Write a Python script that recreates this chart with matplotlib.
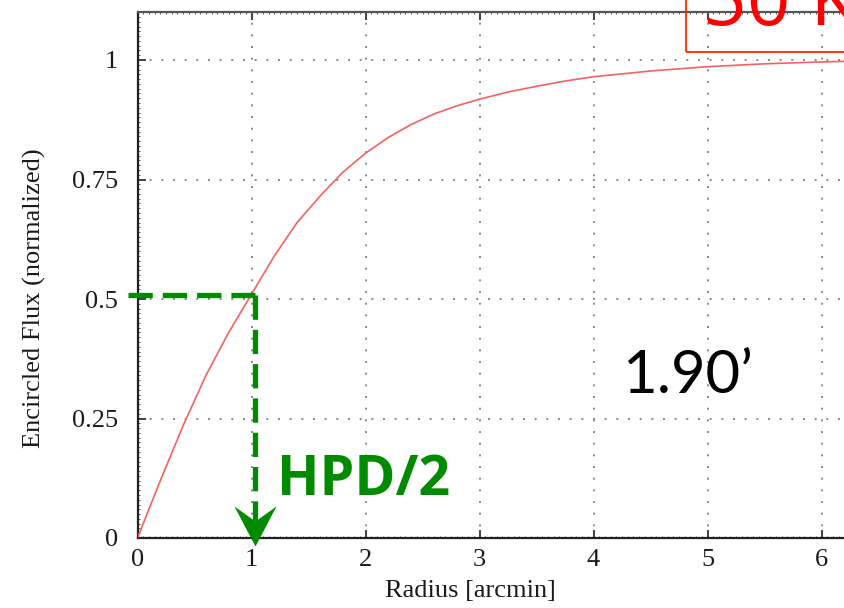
import matplotlib
matplotlib.use("Agg")
import matplotlib.pyplot as plt
from matplotlib.patches import Rectangle
from matplotlib.ticker import MultipleLocator

# ---- data ----
radius = [0.0, 0.2, 0.4, 0.6, 0.8, 1.0, 1.2, 1.4, 1.6, 1.8, 2.0, 2.2, 2.4, 2.6,
          2.8, 3.0, 3.25, 3.5, 3.75, 4.0, 4.5, 5.0, 5.5, 6.0, 6.5, 7.0]
flux = [0.0, 0.12, 0.235, 0.34, 0.43, 0.51, 0.59, 0.66, 0.715, 0.765, 0.805,
        0.838, 0.865, 0.887, 0.904, 0.918, 0.933, 0.945, 0.956, 0.965, 0.977,
        0.986, 0.992, 0.996, 0.999, 1.0]
x_ticks = [0, 1, 2, 3, 4, 5, 6]
y_ticks = [0, 0.25, 0.5, 0.75, 1]
y_tick_labels = ["0", "0.25", "0.5", "0.75", "1"]
hpd_half_radius = 1.03
half_flux = 0.508
hpd_label = "HPD/2"
hpd_value = "1.90\u2019"
energy_label = "50 KeV"

W, H = 844, 608
fig = plt.figure(figsize=(W / 100, H / 100), dpi=100)
fig.patch.set_facecolor("white")

x_max = 7.0
px_per_x = 114.0
ax_left = 137.5 / W
ax_bottom = 1 - 538 / H
ax_height = (538 - 12.2) / H
ax_width = x_max * px_per_x / W
ax = fig.add_axes([ax_left, ax_bottom, ax_width, ax_height])
ax.set_xlim(0, x_max)
ax.set_ylim(0, 1.1)

serif = ["Liberation Serif", "DejaVu Serif"]
fs = 19
ax.set_xticks(x_ticks)
ax.set_xticklabels([str(t) for t in x_ticks], fontsize=fs, family=serif, color="#1a1a1a")
ax.set_yticks(y_ticks)
ax.set_yticklabels(y_tick_labels, fontsize=fs, family=serif, color="#1a1a1a")
ax.xaxis.set_minor_locator(MultipleLocator(0.05))
ax.yaxis.set_minor_locator(MultipleLocator(0.01))
ax.tick_params(which="both", direction="in", top=True, right=True, color="#333333")
ax.tick_params(which="major", length=6, width=1.3)
ax.tick_params(which="minor", length=1.6, width=0.6)
ax.tick_params(axis="x", which="major", pad=8)
ax.tick_params(axis="y", which="major", pad=14)

for s in ["left", "bottom"]:
    ax.spines[s].set_color("#222222")
    ax.spines[s].set_linewidth(1.6)
ax.spines["top"].set_color("#555555")
ax.spines["top"].set_linewidth(1.6)

ax.grid(True, which="major", color="#888888", linestyle=(0, (1, 5)), linewidth=1.4)
ax.set_axisbelow(True)

ax.set_xlabel("Radius [arcmin]", fontsize=fs, family=serif, color="#1a1a1a")
ax.xaxis.set_label_coords(470 / W, 1 - 580 / H, transform=fig.transFigure)
ax.set_ylabel("Encircled Flux (normalized)", fontsize=fs, family=serif, color="#1a1a1a")
ax.yaxis.set_label_coords(46 / W, 1 - 298 / H, transform=fig.transFigure)

# curve
ax.plot(radius, flux, color="#f26262", linewidth=1.2, zorder=3)

# green HPD/2 construction
green = "#008a00"
dash = (4.6, 1.9)
ax.plot([-0.085, hpd_half_radius], [half_flux, half_flux], color=green, lw=3.8,
        dashes=dash, solid_capstyle="butt", dash_capstyle="butt", clip_on=False, zorder=4)
ax.plot([hpd_half_radius, hpd_half_radius], [half_flux, 0.035], color=green, lw=3.8,
        dashes=dash, dash_capstyle="butt", clip_on=False, zorder=4)
arrow_verts = [(0, 0), (-21, 40), (0, 25), (21, 40), (0, 0)]
ax.plot([hpd_half_radius], [-0.016], marker=arrow_verts, markersize=57.6,
        color=green, markeredgewidth=0, linestyle="", clip_on=False, zorder=5)

ax.text(1.22, 0.09, hpd_label, color=green, fontsize=40, fontweight="bold",
        family=["Open Sans", "DejaVu Sans"], ha="left", va="baseline", zorder=6)
ax.text(4.25, (538 - 393) / 478, hpd_value, color="black", fontsize=43,
        family=["Lato", "DejaVu Sans"], ha="left", va="baseline", zorder=6)

# red box in the top right corner (cropped)
fig.patches.append(Rectangle((686 / W, 1 - 52 / H), 0.5, 0.5, transform=fig.transFigure,
                             fill=False, edgecolor="#ff2a00", linewidth=1.3, zorder=10))
fig.text(703 / W, 1 - 25 / H, energy_label, color="#ff0000", fontsize=55,
         family=["Open Sans", "DejaVu Sans"], ha="left", va="baseline", zorder=11)

fig.savefig("out.png", dpi=100)
